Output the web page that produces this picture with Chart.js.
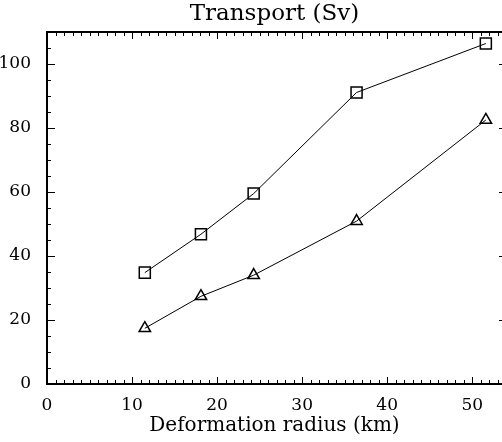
<!DOCTYPE html>
<html>
<head>
<meta charset="utf-8">
<script src="https://cdn.jsdelivr.net/npm/chart.js@4.4.0/dist/chart.umd.min.js"></script>
<style>
html, body { margin: 0; padding: 0; background: #fff; }
#wrap { width: 502px; height: 442px; }
</style>
</head>
<body>
<div id="wrap"><canvas id="grafico" width="502" height="442"></canvas></div>
<script>
// Datos
const radios = [11.5, 18.1, 24.3, 36.4, 51.6];
const serieCuadrados = [34.8, 46.8, 59.5, 91.1, 106.4];
const serieTriangulos = [17.4, 27.4, 34.0, 50.9, 82.5];
const ticksX = [0, 10, 20, 30, 40, 50];
const ticksY = [0, 20, 40, 60, 80, 100];

const fuente = "'DejaVu Serif', 'Liberation Serif', serif";

// Marco y marcas de graduación hacia dentro (estilo IDL)
const marcoIDL = {
    id: 'marcoIDL',
    afterDatasetsDraw(chart) {
        const ctx = chart.ctx;
        const area = chart.chartArea;
        const sx = chart.scales.x;
        const sy = chart.scales.y;
        ctx.save();
        ctx.strokeStyle = '#000';
        ctx.lineWidth = 2;
        // El borde derecho queda fuera de la imagen: solo izquierda, arriba y abajo
        ctx.beginPath();
        ctx.moveTo(area.right + 2, area.top);
        ctx.lineTo(area.left, area.top);
        ctx.lineTo(area.left, area.bottom);
        ctx.lineTo(area.right + 2, area.bottom);
        ctx.stroke();

        ctx.lineWidth = 1;
        ctx.beginPath();
        for (let v = 0; v <= sx.max; v += 1) {
            const px = Math.round(sx.getPixelForValue(v)) + 0.5;
            const len = v % 10 === 0 ? 7 : 4;
            ctx.moveTo(px, area.bottom);
            ctx.lineTo(px, area.bottom - len);
            ctx.moveTo(px, area.top);
            ctx.lineTo(px, area.top + len);
        }
        for (let v = 0; v <= sy.max; v += 5) {
            const py = Math.round(sy.getPixelForValue(v)) + 0.5;
            // en el eje derecho solo asoman las marcas principales
            const len = v % 20 === 0 ? 8 : 4;
            ctx.moveTo(area.left, py);
            ctx.lineTo(area.left + len, py);
            if (v % 20 === 0) {
                ctx.moveTo(area.right + 1, py);
                ctx.lineTo(area.right - 3, py);
            }
        }
        ctx.stroke();
        ctx.restore();
    }
};

const ctx = document.getElementById('grafico').getContext('2d');

new Chart(ctx, {
    type: 'line',
    data: {
        datasets: [
            {
                label: 'cuadrados',
                data: radios.map((x, i) => ({ x: x, y: serieCuadrados[i] })),
                borderColor: '#000',
                borderWidth: 1,
                pointStyle: 'rect',
                pointRadius: 7.8,
                pointBorderWidth: 1.5,
                pointBorderColor: '#000',
                pointBackgroundColor: 'rgba(0,0,0,0)',
                tension: 0
            },
            {
                label: 'triangulos',
                data: radios.map((x, i) => ({ x: x, y: serieTriangulos[i] })),
                borderColor: '#000',
                borderWidth: 1,
                pointStyle: 'triangle',
                pointRadius: 6.6,
                pointBorderWidth: 1.5,
                pointBorderColor: '#000',
                pointBackgroundColor: 'rgba(0,0,0,0)',
                tension: 0
            }
        ]
    },
    options: {
        responsive: false,
        animation: false,
        devicePixelRatio: 1,
        layout: { padding: 0, autoPadding: false },
        scales: {
            x: {
                type: 'linear',
                min: 0,
                max: 53.5,
                afterBuildTicks: (scale) => { scale.ticks = ticksX.map(v => ({ value: v })); },
                afterFit: (scale) => {
                    scale.height = 58;
                    scale.paddingRight = 0;
                    scale.paddingLeft = 0;
                },
                grid: { display: false },
                border: { display: false },
                ticks: {
                    color: '#000',
                    padding: 3,
                    maxRotation: 0,
                    font: { family: fuente, size: 17 }
                },
                title: {
                    display: true,
                    text: 'Deformation radius (km)',
                    color: '#000',
                    padding: { top: 0, bottom: 4 },
                    font: { family: fuente, size: 20 }
                }
            },
            y: {
                type: 'linear',
                min: 0,
                max: 110,
                afterBuildTicks: (scale) => { scale.ticks = ticksY.map(v => ({ value: v })); },
                afterFit: (scale) => { scale.width = 47; },
                grid: { display: false },
                border: { display: false },
                ticks: {
                    color: '#000',
                    padding: 8,
                    font: { family: fuente, size: 17 }
                }
            }
        },
        plugins: {
            legend: { display: false },
            tooltip: { enabled: false },
            title: {
                display: true,
                fullSize: false,
                text: 'Transport (Sv)',
                color: '#000',
                padding: { top: 0, bottom: 4.4 },
                font: { family: fuente, size: 23, weight: 'normal' }
            }
        }
    },
    plugins: [marcoIDL]
});
</script>
</body>
</html>
